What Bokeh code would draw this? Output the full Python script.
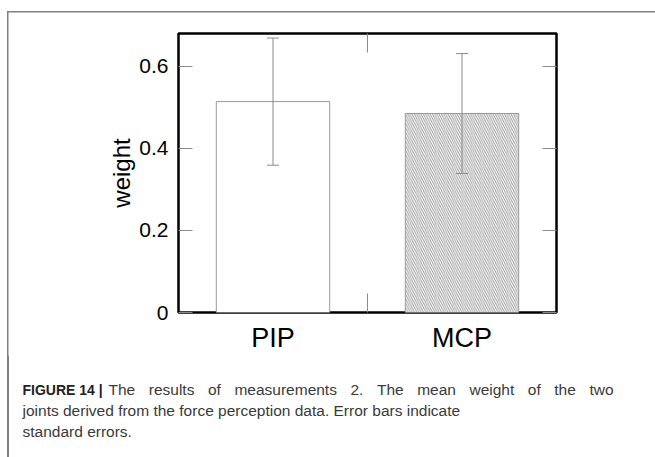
from bokeh.plotting import figure
from bokeh.layouts import column
from bokeh.models import (ColumnDataSource, FixedTicker, LinearAxis, Whisker,
                          TeeHead, Range1d)
from bokeh.core.properties import value
from bokeh.embed import file_html
from bokeh.resources import INLINE

# ---------------- data ----------------
categories = ["PIP", "MCP"]
mean_weight = [0.514, 0.485]
std_error = [0.155, 0.146]
bar_hatch = [" ", "\\"]
y_ticks = [0, 0.2, 0.4, 0.6]
y_tick_labels = ["0", "0.2", "0.4", "0.6"]
divider_ticks = [1.0]
Y_MAX = 0.68

caption_bold = "FIGURE 14 |"
caption_line1 = "The results of measurements 2. The mean weight of the two"
caption_line2 = "joints derived from the force perception data. Error bars indicate"
caption_line3 = "standard errors."

# ---------------- geometry ----------------
W = 655
H1, H2 = 355, 102                     # chart part / caption part
FL, FR, FT, FB = 178, 556, 33, 312    # frame edges in chart canvas pixels
FONT = "Liberation Sans"
GRAY_LINE = "#808080"
N = len(categories)

xs = [i + 0.5 for i in range(N)]
src = ColumnDataSource(dict(
    x=xs, top=mean_weight,
    upper=[m + s for m, s in zip(mean_weight, std_error)],
    lower=[m - s for m, s in zip(mean_weight, std_error)],
    hatch=bar_hatch,
))

p = figure(width=W, height=H1, x_range=Range1d(0, N), y_range=Range1d(0, Y_MAX),
           output_backend="svg", toolbar_location=None,
           x_axis_location=None, y_axis_location=None,
           min_border_left=FL, min_border_right=W - FR, min_border_top=FT,
           min_border_bottom=H1 - FB, background_fill_color="white",
           border_fill_color=None)
p.grid.visible = False
p.outline_line_color = "black"
p.outline_line_width = 2.5

p.vbar(x="x", top="top", bottom=0, width=0.6, source=src,
       fill_color="white", line_color="#9a9a9a", line_width=1,
       hatch_pattern="hatch", hatch_color="#a0a0a0", hatch_scale=4.5,
       hatch_weight=1)

whisk = Whisker(source=src, base="x", upper="upper", lower="lower",
                line_color="#8a8a8a", line_width=1, level="overlay",
                upper_head=TeeHead(size=12, line_color="#8a8a8a", line_width=1),
                lower_head=TeeHead(size=12, line_color="#8a8a8a", line_width=1))
p.add_layout(whisk)

TICK = "#8a8a8a"

left = LinearAxis(ticker=FixedTicker(ticks=y_ticks),
                  major_label_overrides=dict(zip(y_ticks, y_tick_labels)),
                  axis_label="weight", axis_label_text_font=FONT,
                  axis_label_text_font_size="24px", axis_label_text_font_style="normal",
                  axis_label_text_color="black", axis_label_standoff=1,
                  major_label_text_font=FONT, major_label_text_font_size="21px",
                  major_label_text_color="black", major_label_standoff=10,
                  major_tick_in=14, major_tick_out=0, minor_tick_in=0, minor_tick_out=0,
                  major_tick_line_color=TICK, axis_line_color=None)
p.add_layout(left, "left")

right = LinearAxis(ticker=FixedTicker(ticks=y_ticks),
                   major_label_text_color=None,
                   major_tick_in=14, major_tick_out=0, minor_tick_in=0, minor_tick_out=0,
                   major_tick_line_color=TICK, axis_line_color=None)
p.add_layout(right, "right")

top = LinearAxis(ticker=FixedTicker(ticks=divider_ticks),
                 major_label_text_color=None,
                 major_tick_in=19, major_tick_out=0, minor_tick_in=0, minor_tick_out=0,
                 major_tick_line_color=TICK, axis_line_color=None)
p.add_layout(top, "above")

bottom = LinearAxis(ticker=FixedTicker(ticks=xs, minor_ticks=divider_ticks),
                    major_label_overrides=dict(zip(xs, categories)),
                    major_label_text_font=FONT, major_label_text_font_size="27px",
                    major_label_text_color="black", major_label_standoff=10,
                    major_tick_in=0, major_tick_out=0,
                    minor_tick_in=19, minor_tick_out=0,
                    minor_tick_line_color=TICK, axis_line_color=None)
p.add_layout(bottom, "below")

# ---------------- caption panel (pixel coordinates, y downwards) ----------------
c = figure(width=W, height=H2, x_range=Range1d(0, W), y_range=Range1d(H2, 0),
           output_backend="svg", toolbar_location=None,
           x_axis_location=None, y_axis_location=None,
           min_border_left=0, min_border_right=0, min_border_top=0,
           min_border_bottom=0, outline_line_color=None,
           background_fill_color=None, border_fill_color=None)
c.grid.visible = False
c.quad(left=[7], right=[8.5], top=[0], bottom=[H2], fill_color=GRAY_LINE,
       line_color=None)

# keep each figure's frame where it is set (no frame alignment in the column)
for fig in (p, c):
    if "frame_align" in fig.properties():
        fig.frame_align = False

ARIAL = {" ": 278, ".": 278, "2": 556, "T": 611, "a": 556, "e": 556, "f": 278,
         "g": 556, "h": 556, "i": 222, "l": 222, "m": 833, "n": 556, "o": 556,
         "r": 333, "s": 500, "t": 278, "u": 556, "w": 722}
CAP_SIZE = 15.5
CAP_COLOR = "#3a3a3a"


def width(word):
    return sum(ARIAL.get(ch, 556) for ch in word) / 1000 * CAP_SIZE


# first line is justified between x=108 and x=613
words = caption_line1.split(" ")
start, end = 108, 613
gap = (end - start - sum(width(w) for w in words)) / (len(words) - 1)
wx, xpos = [], start
for w in words:
    wx.append(xpos)
    xpos += width(w) + gap

base1, base2, base3 = 389 - H1, 410 - H1, 431 - H1

c.text(x=[22], y=[base1], text=[caption_bold], text_font=value(FONT),
       text_font_size="14px", text_font_style="bold", text_color="#222222",
       text_baseline="alphabetic", text_align="left")
c.text(x=wx + [22, 22], y=[base1] * len(words) + [base2, base3],
       text=words + [caption_line2, caption_line3], text_font=value(FONT),
       text_font_size=f"{CAP_SIZE}px", text_color=CAP_COLOR,
       text_baseline="alphabetic", text_align="left")

layout = column(p, c, spacing=0)
layout.styles = {
    "background-color": "white",
    "background-image": f"linear-gradient({GRAY_LINE}, {GRAY_LINE}), "
                        f"linear-gradient({GRAY_LINE}, {GRAY_LINE})",
    "background-position": "7px 11px, 7px 11px",
    "background-size": "1.5px 100%, 100% 1.5px",
    "background-repeat": "no-repeat",
}
open("out.html", "w").write(file_html(layout, INLINE))
